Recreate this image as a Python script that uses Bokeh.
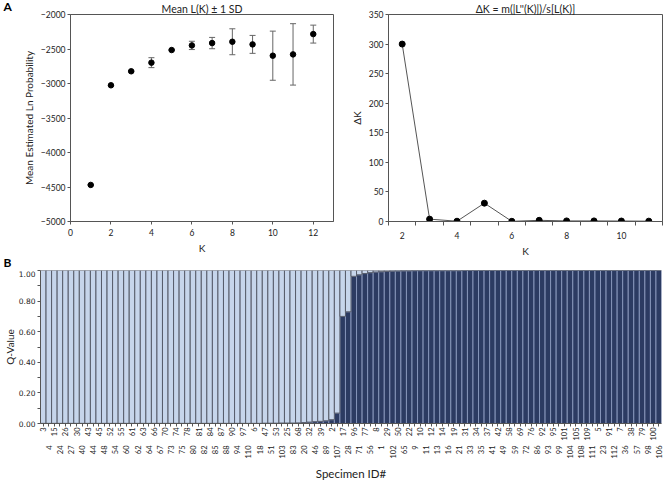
import numpy as np
from bokeh.plotting import figure
from bokeh.models import (ColumnDataSource, Range1d, FixedTicker, LinearAxis, Whisker,
                          TeeHead, Label, NumeralTickFormatter)
from bokeh.layouts import column, row
from bokeh.embed import file_html
from bokeh.resources import INLINE

# ---------------- data: panel A (left) ----------------
k_values = [1, 2, 3, 4, 5, 6, 7, 8, 9, 10, 11, 12]
mean_ln_prob = [-4470, -3026, -2823, -2698, -2515, -2448, -2414, -2395, -2433, -2597, -2578, -2284]
sd_ln_prob = [5, 6, 10, 72, 6, 60, 82, 188, 130, 356, 445, 130]

# ---------------- data: panel A (right) ----------------
dk_k_values = [2, 3, 4, 5, 6, 7, 8, 9, 10, 11]
delta_k = [300, 4, 0.5, 31, 0.3, 2, 1, 1, 0.8, 0.6]

# ---------------- data: panel B ----------------
specimen_ids = [
    "3", "4", "15", "24", "26", "27", "30", "40", "43", "44",
    "45", "48", "52", "54", "55", "60", "61", "62", "63", "64",
    "66", "67", "70", "73", "74", "75", "78", "80", "81", "82",
    "84", "85", "87", "88", "90", "94", "97", "110", "6", "18",
    "47", "51", "53", "103", "25", "83", "68", "20", "32", "46",
    "39", "89", "2", "107", "17", "28", "96", "71", "77", "56",
    "8", "1", "29", "102", "50", "65", "22", "9", "10", "11",
    "12", "13", "14", "16", "19", "21", "31", "33", "34", "35",
    "37", "41", "42", "49", "58", "59", "69", "72", "76", "86",
    "92", "93", "95", "99", "101", "104", "105", "108", "109", "111",
    "5", "23", "91", "112", "7", "36", "38", "57", "79", "98",
    "100", "106",
]
# Q-value of the dark (second) cluster; the light cluster is 1 - this
q_cluster2 = [
    0.001, 0.001, 0.001, 0.001, 0.001, 0.001, 0.001, 0.001, 0.001, 0.001,
    0.001, 0.001, 0.001, 0.001, 0.001, 0.001, 0.001, 0.001, 0.001, 0.001,
    0.001, 0.001, 0.001, 0.001, 0.001, 0.001, 0.001, 0.001, 0.001, 0.001,
    0.001, 0.001, 0.001, 0.001, 0.001, 0.001, 0.001, 0.001, 0.001, 0.001,
    0.002, 0.002, 0.002, 0.003, 0.003, 0.003, 0.004, 0.006, 0.009, 0.012,
    0.014, 0.018, 0.025, 0.068, 0.700, 0.730, 0.962, 0.972, 0.980, 0.986,
    0.990, 0.992, 0.994, 0.996, 0.997, 0.998, 0.998, 0.999, 0.999, 0.999,
    0.999, 0.999, 0.999, 0.999, 0.999, 0.999, 1.000, 1.000, 1.000, 1.000,
    1.000, 1.000, 1.000, 1.000, 1.000, 1.000, 1.000, 1.000, 1.000, 1.000,
    1.000, 1.000, 1.000, 1.000, 1.000, 1.000, 1.000, 1.000, 1.000, 1.000,
    1.000, 1.000, 1.000, 1.000, 1.000, 1.000, 1.000, 1.000, 1.000, 1.000,
    1.000, 1.000,
]

FONT = "Lato"
AX = "#555555"
TXT = "#222222"


def style_axes(p, tick_size="8.5px", label_size="10px", font=FONT):
    for ax in p.axis:
        ax.axis_line_color = AX
        ax.major_tick_line_color = AX
        ax.minor_tick_line_color = AX
        ax.major_tick_in = 0
        ax.minor_tick_in = 0
        ax.major_tick_out = 3
        ax.major_label_standoff = 2
        ax.axis_label_standoff = 3
        ax.major_label_text_font = font
        ax.major_label_text_font_size = tick_size
        ax.major_label_text_color = TXT
        ax.axis_label_text_font = FONT
        ax.axis_label_text_font_size = label_size
        ax.axis_label_text_font_style = "normal"
        ax.axis_label_text_color = TXT
    p.xgrid.visible = False
    p.ygrid.visible = False


def style_title(p):
    p.title.align = "center"
    p.title.text_font = FONT
    p.title.text_font_size = "10.5px"
    p.title.text_font_style = "normal"
    p.title.text_color = TXT
    p.title.standoff = 0


TOP_H = 270
FRAME_BOTTOM = 221

# ---------------- panel A left ----------------
src1 = ColumnDataSource(dict(
    k=k_values, mean=mean_ln_prob,
    upper=list(np.array(mean_ln_prob) + np.array(sd_ln_prob)),
    lower=list(np.array(mean_ln_prob) - np.array(sd_ln_prob)),
))
p1 = figure(width=335, height=TOP_H, x_range=Range1d(0, 13), y_range=Range1d(-5000, -2000),
            output_backend="svg", toolbar_location=None, title="Mean L(K) \u00b1 1 SD",
            min_border_left=70, min_border_right=2, min_border_top=13,
            min_border_bottom=TOP_H - FRAME_BOTTOM)
style_title(p1)
p1.outline_line_color = AX
p1.add_layout(Whisker(source=src1, base="k", upper="upper", lower="lower",
                      line_color="#666666", line_width=1,
                      upper_head=TeeHead(size=6, line_color="#666666", line_width=1),
                      lower_head=TeeHead(size=6, line_color="#666666", line_width=1)))
p1.scatter("k", "mean", source=src1, size=5.5, color="black")
p1.xaxis.ticker = FixedTicker(ticks=[0, 2, 4, 6, 8, 10, 12])
p1.yaxis.ticker = FixedTicker(ticks=[-5000, -4500, -4000, -3500, -3000, -2500, -2000])
p1.xaxis.axis_label = "K"
p1.yaxis.axis_label = "Mean Estimated Ln Probability"
style_axes(p1)
p1.xaxis.major_label_standoff = 4
# panel letters, placed in the side panel so they are not clipped to the frame
p1.add_layout(Label(x=0, y=-2000, x_offset=-67, y_offset=8, text="A",
                    text_font=FONT, text_font_style="bold", text_font_size="12px",
                    text_baseline="middle", text_color="black"), "left")
p1.add_layout(Label(x=0, y=-5000, x_offset=-67, y_offset=-(TOP_H - 1 - FRAME_BOTTOM), text="B",
                    text_font=FONT, text_font_style="bold", text_font_size="12px",
                    text_baseline="bottom", text_color="black"), "left")

# ---------------- panel A right ----------------
src2 = ColumnDataSource(dict(k=dk_k_values, dk=delta_k))
p2 = figure(width=329, height=TOP_H, x_range=Range1d(1.5, 11.5), y_range=Range1d(0, 350),
            output_backend="svg", toolbar_location=None,
            title="\u0394K = m(|L''(K)|)/s[L(K)]",
            min_border_left=53, min_border_right=2, min_border_top=13,
            min_border_bottom=TOP_H - FRAME_BOTTOM)
style_title(p2)
p2.outline_line_color = AX
p2.line("k", "dk", source=src2, line_color="#555555", line_width=1)
p2.scatter("k", "dk", source=src2, size=6, color="black")
p2.xaxis.ticker = FixedTicker(ticks=[2, 4, 6, 8, 10],
                              minor_ticks=[1.5, 2.5, 3.5, 4.5, 5.5, 6.5, 7.5, 8.5, 9.5, 10.5, 11.5])
p2.yaxis.ticker = FixedTicker(ticks=[0, 50, 100, 150, 200, 250, 300, 350])
p2.xaxis.axis_label = "K"
p2.yaxis.axis_label = "\u0394K"
style_axes(p2)
p2.xaxis.major_tick_out = 0
p2.xaxis.minor_tick_out = 4
p2.xaxis.major_label_standoff = 6

# ---------------- panel B ----------------
n = len(specimen_ids)
xpos = np.arange(n)
q2 = np.array(q_cluster2)
src3 = ColumnDataSource(dict(x=xpos, q2=q2, q1=1.0 - q2))
p3 = figure(width=664, height=482 - TOP_H, x_range=Range1d(-0.5, n - 0.5), y_range=Range1d(0, 1),
            output_backend="svg", toolbar_location=None,
            min_border_left=37, min_border_right=3, min_border_top=0, min_border_bottom=57)
p3.outline_line_color = None
p3.vbar_stack(["q2", "q1"], x="x", width=1.0, source=src3,
              fill_color=["#2c3b62", "#c6d5eb"], line_color=["#8594b8", "#575c6a"],
              line_width=1)
p3.yaxis.ticker = FixedTicker(ticks=[0, 0.2, 0.4, 0.6, 0.8, 1.0],
                              minor_ticks=[0.1, 0.3, 0.5, 0.7, 0.9])
p3.yaxis.formatter = NumeralTickFormatter(format="0.00")
p3.yaxis.axis_label = "Q-Value"
tick_list = list(range(n))
ax_top = p3.xaxis[0]
ax_top.ticker = FixedTicker(ticks=tick_list, minor_ticks=[])
ax_top.major_label_overrides = {i: (specimen_ids[i] if i % 2 == 0 else "") for i in tick_list}
ax_top.major_label_orientation = np.pi / 2
ax_bot = LinearAxis(ticker=FixedTicker(ticks=tick_list, minor_ticks=[]),
                    major_label_overrides={i: (specimen_ids[i] if i % 2 == 1 else "") for i in tick_list},
                    major_label_orientation=np.pi / 2, axis_label="Specimen ID#")
p3.add_layout(ax_bot, "below")
style_axes(p3, tick_size="7.5px", label_size="11.5px")
p3.yaxis.major_label_text_font = "DejaVu Sans"
p3.yaxis.major_label_text_font_size = "7.5px"
p3.yaxis.minor_tick_out = 3
p3.yaxis.axis_label_standoff = 0
p3.yaxis.axis_label_text_font_size = "10px"
ax_top.major_label_standoff = 1
ax_bot.major_tick_out = 0
ax_bot.axis_line_color = None
ax_bot.major_label_standoff = 2
ax_bot.axis_label_standoff = 5

layout = column(row(p1, p2), p3)
open("out.html", "w").write(file_html(layout, INLINE))
